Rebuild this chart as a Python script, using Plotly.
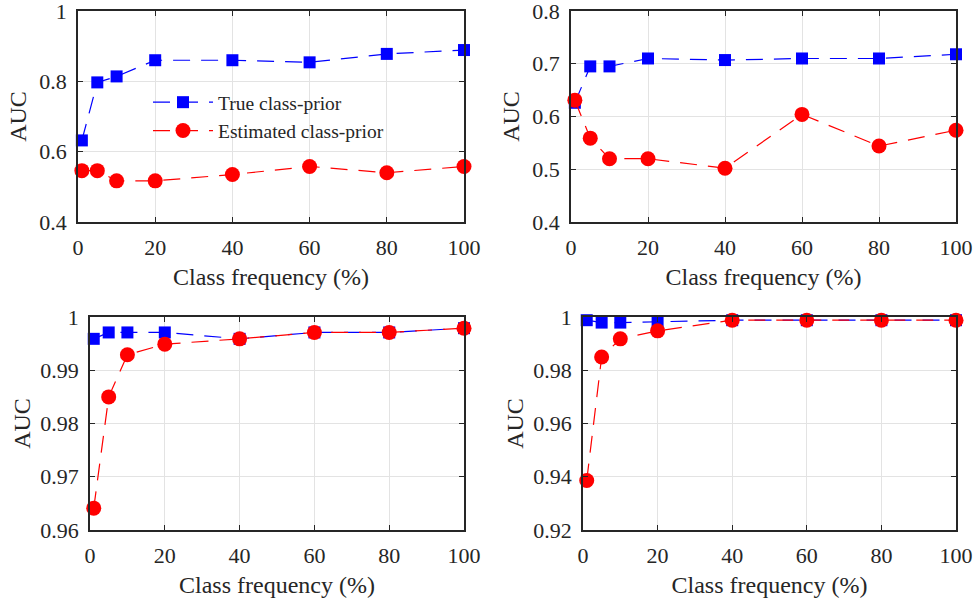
import plotly.graph_objects as go

x_freq = [1, 5, 10, 20, 40, 60, 80, 100]

true_a = [0.632, 0.797, 0.814, 0.860, 0.860, 0.854, 0.878, 0.889]
est_a = [0.546, 0.546, 0.517, 0.517, 0.535, 0.558, 0.540, 0.558]

true_b = [0.626, 0.695, 0.695, 0.710, 0.707, 0.710, 0.710, 0.718]
est_b = [0.631, 0.559, 0.520, 0.520, 0.502, 0.604, 0.544, 0.574]

true_c = [0.9959, 0.9971, 0.9971, 0.9971, 0.9959, 0.9971, 0.9971, 0.9979]
est_c = [0.9641, 0.9850, 0.9929, 0.9949, 0.9959, 0.9971, 0.9971, 0.9979]

true_d = [0.9988, 0.9979, 0.9979, 0.9982, 0.9988, 0.9988, 0.9988, 0.9988]
est_d = [0.9386, 0.9850, 0.9918, 0.9948, 0.9988, 0.9988, 0.9988, 0.9988]

xticks = [0, 20, 40, 60, 80, 100]
yt_a = [0.4, 0.6, 0.8, 1.0]
yl_a = ["0.4", "0.6", "0.8", "1"]
yt_b = [0.4, 0.5, 0.6, 0.7, 0.8]
yl_b = ["0.4", "0.5", "0.6", "0.7", "0.8"]
yt_c = [0.96, 0.97, 0.98, 0.99, 1.0]
yl_c = ["0.96", "0.97", "0.98", "0.99", "1"]
yt_d = [0.92, 0.94, 0.96, 0.98, 1.0]
yl_d = ["0.92", "0.94", "0.96", "0.98", "1"]

W, H = 973, 600
FONT = "Liberation Serif"
TXT = "#262626"
DASH = "17px,11px"

panels = [
    # (true, est, ytickvals, yticklabels, yrange, px box (l, r, t, b), title standoff)
    (true_a, est_a, yt_a, yl_a, [0.4, 1.0], (78, 464, 11, 222), 6),
    (true_b, est_b, yt_b, yl_b, [0.4, 0.8], (571, 956, 11, 222), 6),
    (true_c, est_c, yt_c, yl_c, [0.96, 1.0], (90, 464, 317, 530), 3),
    (true_d, est_d, yt_d, yl_d, [0.92, 1.0], (583, 956, 317, 530), 3),
]

fig = go.Figure()
layout = {}
for i, (tv, ev, ytv, ytl, yr, box, so) in enumerate(panels):
    n = "" if i == 0 else str(i + 1)
    xa, ya = "x" + n, "y" + n
    l, r, t, b = box
    fig.add_trace(go.Scatter(
        x=x_freq, y=tv, xaxis=xa, yaxis=ya, mode="lines+markers",
        name="True class-prior", showlegend=(i == 0), cliponaxis=False,
        line=dict(color="#0000FF", width=1.2, dash=DASH),
        marker=dict(symbol="square", size=12, color="#0000FF"),
    ))
    fig.add_trace(go.Scatter(
        x=x_freq, y=ev, xaxis=xa, yaxis=ya, mode="lines+markers",
        name="Estimated class-prior", showlegend=(i == 0), cliponaxis=False,
        line=dict(color="#FF0000", width=1.2, dash=DASH),
        marker=dict(symbol="circle", size=15, color="#FF0000"),
    ))
    axcommon = dict(
        showline=True, linecolor=TXT, linewidth=1.5, mirror="ticks",
        ticks="inside", ticklen=5, tickcolor=TXT, tickwidth=1,
        showgrid=True, gridcolor="#E3E3E3", gridwidth=1, zeroline=False,
        tickfont=dict(family=FONT, size=22, color=TXT), automargin=False,
        ticklabeloverflow="allow",
    )
    layout["xaxis" + n] = dict(
        axcommon, domain=[l / W, r / W], range=[0, 100], anchor=ya,
        tickvals=xticks, ticklabelstandoff=5,
        title=dict(text="Class frequency (%)", font=dict(family=FONT, size=24, color=TXT), standoff=9),
    )
    layout["yaxis" + n] = dict(
        axcommon, domain=[1 - b / H, 1 - t / H], range=yr, anchor=xa,
        tickvals=ytv, ticktext=ytl, ticklabelstandoff=5,
        title=dict(text="AUC", font=dict(family=FONT, size=24, color=TXT), standoff=so),
    )

fig.update_layout(
    **layout,
    width=W, height=H,
    margin=dict(l=0, r=0, t=0, b=0),
    paper_bgcolor="white", plot_bgcolor="white",
    font=dict(family=FONT, color=TXT),
    legend=dict(
        x=148 / W, y=1 - 83 / H, xanchor="left", yanchor="top",
        bgcolor="rgba(255,255,255,0)", borderwidth=0,
        font=dict(family=FONT, size=19.5, color=TXT),
        tracegroupgap=0, itemwidth=60,
    ),
)

fig.write_html(
    "out.html",
    config={"displayModeBar": False},
    post_script="document.body.style.margin='0';document.body.style.overflow='hidden';",
)
